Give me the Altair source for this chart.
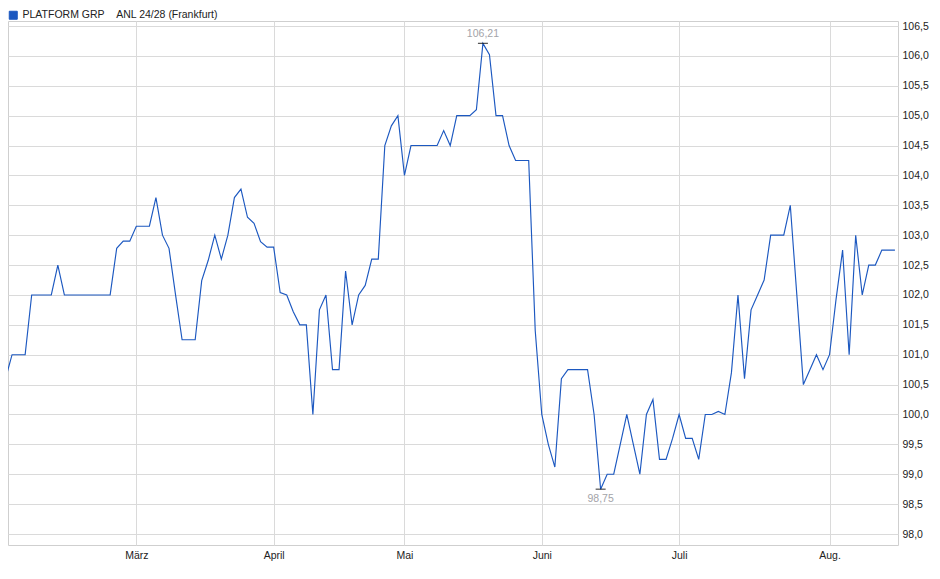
import altair as alt
import pandas as pd

# ---------------- data ----------------
SERIES_NAME = "PLATFORM GRP\u00a0\u00a0\u00a0\u00a0ANL 24/28 (Frankfurt)"
HOLIDAYS = ["2025-04-18", "2025-04-21", "2025-05-01"]
DATES = pd.bdate_range("2025-02-03", "2025-08-15", freq="C", holidays=HOLIDAYS)

PRICES = [
    100.6, 101.0, 101.0, 101.0, 102.0, 102.0, 102.0, 102.0, 102.5, 102.0,
    102.0, 102.0, 102.0, 102.0, 102.0, 102.0, 102.0, 102.78, 102.9, 102.9,
    103.15, 103.15, 103.15, 103.63, 103.0, 102.78, 102.0, 101.25, 101.25, 101.25,
    102.24, 102.58, 103.0, 102.6, 103.0, 103.63, 103.77, 103.3, 103.2, 102.89,
    102.8, 102.8, 102.04, 102.0, 101.72, 101.5, 101.5, 100.0, 101.75, 102.0,
    100.75, 100.75, 102.4, 101.5, 102.0, 102.16, 102.6, 102.6, 104.5, 104.83,
    105.0, 104.0, 104.5, 104.5, 104.5, 104.5, 104.5, 104.75, 104.5, 105.0,
    105.0, 105.0, 105.1, 106.21, 106.02, 105.0, 105.0, 104.5, 104.25, 104.25,
    104.25, 101.4, 100.0, 99.5, 99.12, 100.6, 100.75, 100.75, 100.75, 100.75,
    100.0, 98.75, 99.0, 99.0, 99.5, 100.0, 99.5, 99.0, 100.0, 100.25,
    99.25, 99.25, 99.6, 100.0, 99.6, 99.6, 99.25, 100.0, 100.0, 100.05,
    100.0, 100.7, 102.0, 100.6, 101.75, 102.0, 102.25, 103.0, 103.0, 103.0,
    103.5, 102.0, 100.5, 100.75, 101.0, 100.75, 101.0, 101.93, 102.75, 101.0,
    103.0, 102.0, 102.5, 102.5, 102.75, 102.75, 102.75,
]

MONTH_LABELS = ["März", "April", "Mai", "Juni", "Juli", "Aug."]
Y_TICKS = [98.0, 98.5, 99.0, 99.5, 100.0, 100.5, 101.0, 101.5, 102.0,
           102.5, 103.0, 103.5, 104.0, 104.5, 105.0, 105.5, 106.0, 106.5]

# ---------------- styles ----------------
BLUE = "#1c58c0"
GRID = "#dadada"
FONT = "Liberation Sans"

df = pd.DataFrame({
    "date": DATES.strftime("%Y-%m-%d"),
    "idx": range(len(DATES)),
    "price": PRICES,
    "series": SERIES_NAME,
})

# first trading day of each month (March .. August)
month_start = df.groupby(DATES.to_period("M"))["idx"].min().tolist()[1:]
label_expr = " : ".join(
    f"datum.value == {i} ? '{lab}'" for i, lab in zip(month_start, MONTH_LABELS)
) + " : ''"

imax = int(df["price"].idxmax())
imin = int(df["price"].idxmin())
ext = df.loc[[imax, imin]].copy()
ext["kind"] = ["max", "min"]
ext["label"] = ext["price"].map(lambda v: f"{v:.2f}".replace(".", ","))

x_enc = alt.X(
    "idx:Q",
    scale=alt.Scale(domain=[0.38, 136.47], nice=False, zero=False),
    axis=alt.Axis(
        values=month_start, labelExpr=label_expr, title=None, domain=False,
        ticks=False, labelPadding=5, grid=True, gridColor=GRID,
        labelFlush=False, labelOverlap=False, labelBound=False,
    ),
)
y_enc = alt.Y(
    "price:Q",
    scale=alt.Scale(domain=[97.816, 106.584], nice=False, zero=False),
    axis=alt.Axis(
        orient="right", values=Y_TICKS,
        labelExpr="replace(format(datum.value, '.1f'), '.', ',')",
        title=None, domain=False, ticks=False, labelPadding=4,
        grid=True, gridColor=GRID, labelFlush=False, labelOverlap=False,
    ),
)

line = alt.Chart(df).mark_line(strokeWidth=1.15, clip=True).encode(
    x=x_enc,
    y=y_enc,
    color=alt.Color(
        "series:N",
        scale=alt.Scale(range=[BLUE]),
        legend=alt.Legend(
            title=None, orient="none", legendX=0, legendY=-11, padding=0,
            symbolType="square", symbolSize=64, labelFontSize=10.5,
            labelFont=FONT, labelColor="#222222", labelLimit=500, labelOffset=4,
            symbolFillColor=BLUE, symbolStrokeColor="#0d2f78",
            symbolStrokeWidth=1,
        ),
    ),
)

ticks = alt.Chart(ext).mark_tick(
    orient="horizontal", color="black", size=10, thickness=1.2
).encode(x=x_enc, y=y_enc)

txt_max = alt.Chart(ext).transform_filter(alt.datum.kind == "max").mark_text(
    dy=-9, fontSize=10.5, font=FONT, color="#a3a3a8"
).encode(x=x_enc, y=y_enc, text="label:N")

txt_min = alt.Chart(ext).transform_filter(alt.datum.kind == "min").mark_text(
    dy=10, fontSize=10.5, font=FONT, color="#a3a3a8"
).encode(x=x_enc, y=y_enc, text="label:N")

chart = alt.layer(line, ticks, txt_max, txt_min).properties(
    width=890, height=524,
    autosize=alt.AutoSizeParams(type="none"),
    padding={"left": 0, "top": 13, "right": 33, "bottom": 16},
    background="white",
).configure_axis(
    labelFont=FONT, labelFontSize=10.5, labelColor="#222222",
).configure_view(
    stroke="#cfcfcf", strokeWidth=1,
)

chart.save("out.html", embed_options={"renderer": "svg", "actions": False})
